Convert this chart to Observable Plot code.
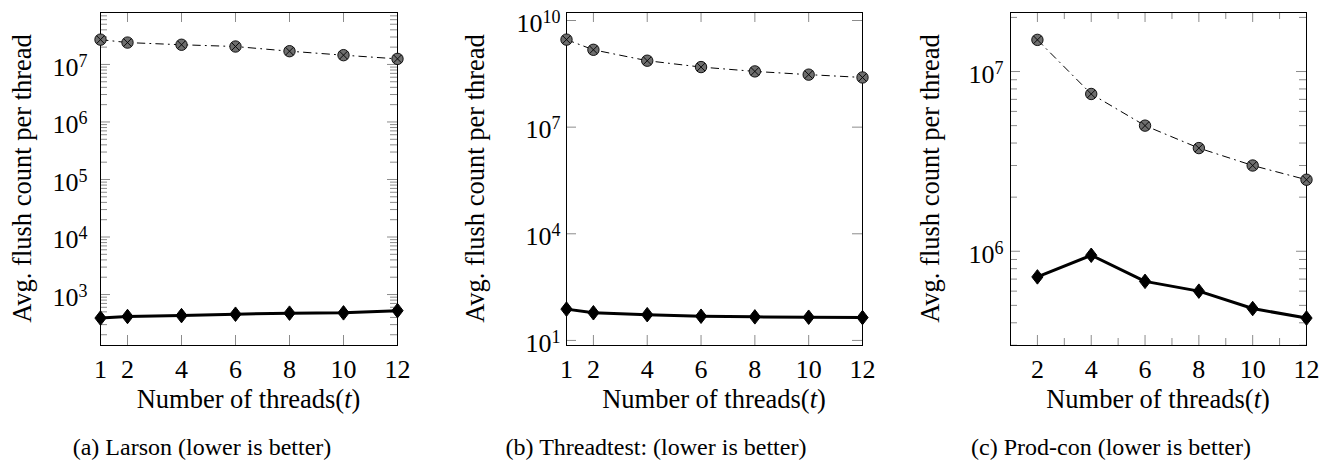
<!DOCTYPE html>
<html><head><meta charset="utf-8">
<script src="https://cdn.jsdelivr.net/npm/d3@7"></script>
<script src="https://cdn.jsdelivr.net/npm/@observablehq/plot@0.6"></script>
<style>
body{margin:0;background:#fff;}
#wrap{position:relative;width:1332px;height:464px;font-family:"Liberation Serif","Times New Roman",serif;background:#fff;overflow:hidden;}
.panel{position:absolute;top:0;}
.cap{position:absolute;top:435px;width:440px;font-size:24px;line-height:24px;text-align:center;white-space:nowrap;color:#000;font-family:"Liberation Serif",serif;}
</style></head><body><div id="wrap"></div>
<script>
// ---- data ----
const threadsAB = [1, 2, 4, 6, 8, 10, 12];
const threadsC = [2, 4, 6, 8, 10, 12];
const larsonBaseline = [2.7e7, 2.4e7, 2.2e7, 2.05e7, 1.7e7, 1.45e7, 1.25e7];
const larsonOurs = [390, 415, 430, 455, 475, 480, 525];
const threadtestBaseline = [2.9e9, 1.5e9, 7.4e8, 4.9e8, 3.7e8, 3.0e8, 2.5e8];
const threadtestOurs = [76, 60, 53, 48, 46, 45, 44];
const prodconBaseline = [1.5e7, 7.5e6, 5.0e6, 3.75e6, 3.0e6, 2.5e6];
const prodconOurs = [7.2e5, 9.5e5, 6.8e5, 6.0e5, 4.8e5, 4.25e5];
const xTicksAB = [1, 2, 4, 6, 8, 10, 12];
const xTicksC = [2, 4, 6, 8, 10, 12];
const xMinorC = [1, 3, 5, 7, 9, 11];
const yTicksA = [1e3, 1e4, 1e5, 1e6, 1e7];
const yTicksB = [1e1, 1e4, 1e7, 1e10];
const yTicksC = [1e6, 1e7];
const captions = ["(a) Larson (lower is better)", "(b) Threadtest: (lower is better)", "(c) Prod-con (lower is better)"];
const yLabel = "Avg. flush count per thread";
const xLabel = "Number of threads";

// ---- layout ----
const FONT = '"Liberation Serif","Times New Roman",serif';
const W = 444, H = 420, MT = 12, MB = 75;
const panels = [
  {left: 0, ml: 100, mr: 47, threads: threadsAB, base: larsonBaseline, ours: larsonOurs,
   ydom: [130, 8.0e7], yt: yTicksA, minorY: true, xt: xTicksAB, xminor: [], pad: 13, ylabX: 31, cap: captions[0], capC: 202},
  {left: 444, ml: 122, mr: 26, threads: threadsAB, base: threadtestBaseline, ours: threadtestOurs,
   ydom: [7.2, 1.68e10], yt: yTicksB, minorY: false, xt: xTicksAB, xminor: [], pad: 6, ylabX: 40, cap: captions[1], capC: 656 - 444},
  {left: 888, ml: 122, mr: 26, threads: threadsC, base: prodconBaseline, ours: prodconOurs,
   ydom: [2.99e5, 2.13e7], yt: yTicksC, minorY: true, xt: xTicksC, xminor: xMinorC, pad: 7, ylabX: 51, cap: captions[2], capC: 1111 - 888}
];

const diamond = {draw(ctx, size) { const r = Math.sqrt(size / Math.PI); const w = r * 0.72, h = r * 0.93;
  ctx.moveTo(0, -h); ctx.lineTo(w, 0); ctx.lineTo(0, h); ctx.lineTo(-w, 0); ctx.closePath(); }};
const cross = {draw(ctx, size) { const r = Math.sqrt(size / Math.PI) * 0.7071;
  ctx.moveTo(-r, -r); ctx.lineTo(r, r); ctx.moveTo(-r, r); ctx.lineTo(r, -r); }};

function minorTicks([lo, hi]) {
  const out = [];
  for (let k = Math.floor(Math.log10(lo)); k <= Math.ceil(Math.log10(hi)); k++)
    for (let m = 2; m <= 9; m++) { const v = m * Math.pow(10, k); if (v >= lo && v <= hi) out.push(v); }
  return out;
}

const wrap = document.getElementById("wrap");
const tickColor = "#8c8c8c";

panels.forEach(p => {
  const fw = W - p.ml - p.mr, fh = H - MT - MB;
  const baseRows = p.threads.map((t, i) => ({t, v: p.base[i]}));
  const oursRows = p.threads.map((t, i) => ({t, v: p.ours[i]}));
  const minY = p.minorY ? minorTicks(p.ydom) : [];
  const marks = [
    Plot.tickY(p.yt, {y: d => d, stroke: tickColor, insetRight: fw - 10}),
    Plot.tickY(p.yt, {y: d => d, stroke: tickColor, insetLeft: fw - 10}),
    Plot.tickY(minY, {y: d => d, stroke: tickColor, insetRight: fw - 7}),
    Plot.tickY(minY, {y: d => d, stroke: tickColor, insetLeft: fw - 7}),
    Plot.tickX(p.xt, {x: d => d, stroke: tickColor, insetTop: fh - 10}),
    Plot.tickX(p.xt, {x: d => d, stroke: tickColor, insetBottom: fh - 10}),
    Plot.tickX(p.xminor, {x: d => d, stroke: tickColor, insetTop: fh - 7}),
    Plot.tickX(p.xminor, {x: d => d, stroke: tickColor, insetBottom: fh - 7}),
    Plot.frame({stroke: "#000", strokeWidth: 1}),
    Plot.axisY(p.yt, {anchor: "left", tickSize: 0, tickPadding: p.pad, dy: 3, label: null,
      fontSize: 26, fontFamily: FONT,
      tickFormat: d => "10^" + Math.round(Math.log10(d)), fill: "#000"}),
    Plot.axisX(p.xt, {anchor: "bottom", tickSize: 0, tickPadding: 14, label: null,
      fontSize: 26, fontFamily: FONT, tickFormat: d => String(d), fill: "#000"}),
    Plot.line(baseRows, {x: "t", y: "v", stroke: "#000", strokeWidth: 1, strokeDasharray: "7.5,5,1,5"}),
    Plot.dot(baseRows, {x: "t", y: "v", r: 5.7, symbol: "circle", fill: "#6e6e6e", stroke: "#000", strokeWidth: 0.9}),
    Plot.dot(baseRows, {x: "t", y: "v", r: 5.7, symbol: cross, fill: "none", stroke: "#000", strokeWidth: 0.9}),
    Plot.line(oursRows, {x: "t", y: "v", stroke: "#000", strokeWidth: 3}),
    Plot.dot(oursRows, {x: "t", y: "v", r: 7.8, symbol: diamond, fill: "#000", stroke: "#000", strokeWidth: 1})
  ];
  const svg = Plot.plot({
    width: W, height: H, marginLeft: p.ml, marginRight: p.mr, marginTop: MT, marginBottom: MB,
    x: {type: "linear", domain: [1, 12]},
    y: {type: "log", domain: p.ydom},
    style: {fontFamily: FONT, fontSize: "26px", color: "#000", background: "transparent", overflow: "visible"},
    marks
  });
  svg.classList.add("panel");
  svg.style.left = p.left + "px";
  svg.setAttribute("font-family", FONT);
  svg.querySelectorAll('[aria-label="y-axis tick label"] text').forEach(t => {
    const s = t.textContent;
    const [b, e] = s.split("^");
    t.textContent = "";
    const ns = "http://www.w3.org/2000/svg";
    const t1 = document.createElementNS(ns, "tspan"); t1.textContent = b; t.appendChild(t1);
    const t2 = document.createElementNS(ns, "tspan"); t2.textContent = e;
    t2.setAttribute("dy", "-9"); t2.setAttribute("font-size", "18"); t.appendChild(t2);
  });
  const sel = d3.select(svg);
  sel.append("text")
    .attr("transform", `translate(${p.ylabX},${MT + fh / 2}) rotate(-90)`)
    .attr("text-anchor", "middle").attr("font-size", 26.5).attr("font-family", FONT).attr("fill", "#000")
    .text(yLabel);
  const xl = sel.append("text")
    .attr("x", p.ml + fw / 2).attr("y", 408)
    .attr("text-anchor", "middle").attr("font-size", 26.5).attr("font-family", FONT).attr("fill", "#000");
  xl.append("tspan").text(xLabel + "(");
  xl.append("tspan").attr("font-style", "italic").text("t");
  xl.append("tspan").text(")");
  wrap.appendChild(svg);
  const cap = document.createElement("div");
  cap.className = "cap";
  cap.style.left = (p.left + p.capC - 220) + "px";
  cap.textContent = p.cap;
  wrap.appendChild(cap);
});
</script></body></html>
